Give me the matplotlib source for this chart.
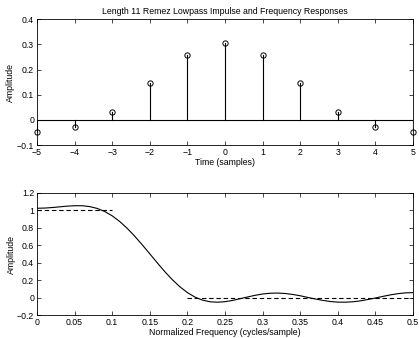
import numpy as np
import matplotlib
matplotlib.use("Agg")
import matplotlib.pyplot as plt

plt.rcParams['font.family'] = ['Liberation Sans', 'DejaVu Sans']

# Impulse response
n_samples = [-5, -4, -3, -2, -1, 0, 1, 2, 3, 4, 5]
h_values = [-0.049, -0.029, 0.033, 0.147, 0.258, 0.305, 0.258, 0.147, 0.033, -0.029, -0.049]

# Frequency response
freq = [i / 100 for i in range(51)]
amp = [1.025, 1.027, 1.033, 1.041, 1.049, 1.054, 1.054, 1.044, 1.023, 0.988, 0.938,
       0.873, 0.794, 0.704, 0.605, 0.502, 0.398, 0.297, 0.205, 0.124, 0.057,
       0.006, -0.029, -0.048, -0.053, -0.047, -0.033, -0.013, 0.007, 0.026, 0.041,
       0.050, 0.052, 0.047, 0.036, 0.021, 0.002, -0.016, -0.032, -0.045, -0.052,
       -0.053, -0.048, -0.038, -0.022, -0.005, 0.014, 0.031, 0.045, 0.054, 0.057]

# Ideal response
ideal_pass_f = [0.0, 0.1]
ideal_pass_a = [1.0, 1.0]
ideal_stop_f = [0.2, 0.5]
ideal_stop_a = [0.0, 0.0]

top_ticks_x = [-5, -4, -3, -2, -1, 0, 1, 2, 3, 4, 5]
top_ticks_y = [-0.1, 0, 0.1, 0.2, 0.3, 0.4]
bot_ticks_x = [0, 0.05, 0.1, 0.15, 0.2, 0.25, 0.3, 0.35, 0.4, 0.45, 0.5]
bot_ticks_y = [-0.2, 0, 0.2, 0.4, 0.6, 0.8, 1, 1.2]

def fmt(v):
    s = ('%g' % v)
    return s.replace('-', '\u2212')

fig = plt.figure(figsize=(4.19, 3.38), dpi=100)
fs = 6.3

def style(ax):
    for sp in ax.spines.values():
        sp.set_linewidth(0.6)
        sp.set_color('black')
    ax.tick_params(direction='in', top=True, right=True, length=3, width=0.5,
                   labelsize=fs, pad=2)

ax1 = fig.add_axes([0.0883, 0.571, 0.8974, 0.372])
ax1.plot([-5, 5], [0, 0], color='black', lw=0.8)
for x, y in zip(n_samples, h_values):
    ax1.plot([x, x], [0, y], color='black', lw=0.8)
ax1.plot(n_samples, h_values, 'o', mfc='none', mec='black', ms=3.8, mew=0.7, clip_on=False)
ax1.set_xlim(-5, 5)
ax1.set_ylim(-0.1, 0.4)
ax1.set_xticks(top_ticks_x)
ax1.set_xticklabels([fmt(v) for v in top_ticks_x])
ax1.set_yticks(top_ticks_y)
ax1.set_yticklabels([fmt(v) for v in top_ticks_y])
ax1.set_xlabel('Time (samples)', fontsize=fs, labelpad=1)
ax1.set_ylabel('Amplitude', fontsize=fs, labelpad=1)
ax1.set_title('Length 11 Remez Lowpass Impulse and Frequency Responses', fontsize=fs, pad=4)
style(ax1)

ax2 = fig.add_axes([0.0883, 0.068, 0.8974, 0.361])
ax2.plot(freq, amp, color='black', lw=0.8)
ax2.plot(ideal_pass_f, ideal_pass_a, '--', color='black', lw=0.8, dashes=(4, 2.5))
ax2.plot(ideal_stop_f, ideal_stop_a, '--', color='black', lw=0.8, dashes=(4, 2.5))
ax2.set_xlim(0, 0.5)
ax2.set_ylim(-0.2, 1.2)
ax2.set_xticks(bot_ticks_x)
ax2.set_xticklabels([fmt(v) for v in bot_ticks_x])
ax2.set_yticks(bot_ticks_y)
ax2.set_yticklabels([fmt(v) for v in bot_ticks_y])
ax2.set_xlabel('Normalized Frequency (cycles/sample)', fontsize=fs, labelpad=1)
ax2.set_ylabel('Amplitude', fontsize=fs, labelpad=1)
style(ax2)

fig.savefig('out.png', dpi=100)
